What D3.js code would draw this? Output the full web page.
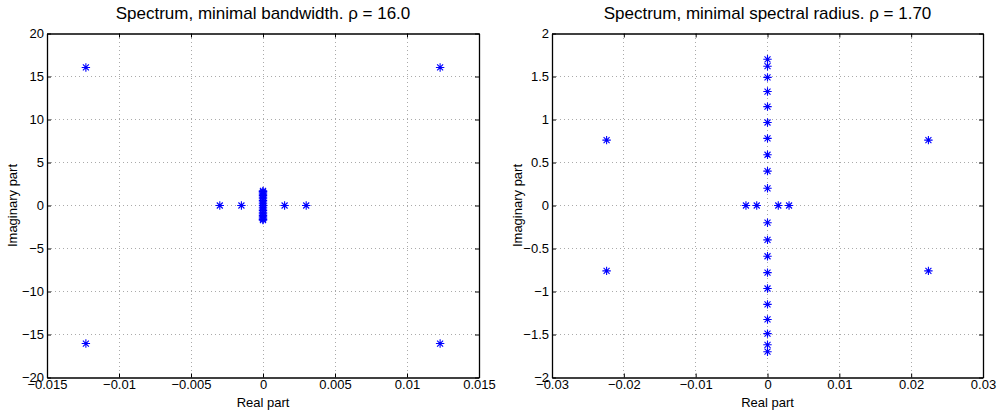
<!DOCTYPE html>
<html>
<head>
	<title>Spectrum</title>
	<script type="text/javascript" src="https://cdn.jsdelivr.net/npm/d3@7"></script>
	<style type="text/css">
		body{ margin:0; background:#fff; }
		text{ font-family: "Liberation Sans", Arial, sans-serif; fill:#000; }
	</style>
</head>
<body>
	<svg width=1000 height=415 class="spectrum"></svg>
	<script type="text/javascript">

		// left panel: minimal bandwidth
		leftTitle = 'Spectrum, minimal bandwidth. \u03c1 = 16.0'
		leftXTicks = [-0.015, -0.01, -0.005, 0, 0.005, 0.01, 0.015]
		leftYTicks = [-20, -15, -10, -5, 0, 5, 10, 15, 20]
		leftRe = [-0.0123, 0.0123, -0.0123, 0.0123, -0.003, -0.0015, 0.0015, 0.003,
			0, 0, 0, 0, 0, 0, 0, 0, 0, 0, 0, 0, 0, 0, 0, 0, 0, 0, 0, 0, 0]
		leftIm = [16.05, 16.05, -16.05, -16.05, 0, 0, 0, 0,
			0, 0.2, 0.4, 0.59, 0.78, 0.965, 1.15, 1.325, 1.49, 1.62, 1.7,
			-0.2, -0.4, -0.59, -0.78, -0.965, -1.15, -1.325, -1.49, -1.62, -1.7]

		// right panel: minimal spectral radius
		rightTitle = 'Spectrum, minimal spectral radius. \u03c1 = 1.70'
		rightXTicks = [-0.03, -0.02, -0.01, 0, 0.01, 0.02, 0.03]
		rightYTicks = [-2, -1.5, -1, -0.5, 0, 0.5, 1, 1.5, 2]
		rightRe = [-0.0224, 0.0224, -0.0224, 0.0224, -0.003, -0.0015, 0.0015, 0.003,
			0, 0, 0, 0, 0, 0, 0, 0, 0, 0, 0, 0, 0, 0, 0, 0, 0, 0, 0, 0]
		rightIm = [0.76, 0.76, -0.76, -0.76, 0, 0, 0, 0,
			0.2, 0.4, 0.59, 0.78, 0.965, 1.15, 1.325, 1.49, 1.62, 1.7,
			-0.2, -0.4, -0.59, -0.78, -0.965, -1.15, -1.325, -1.49, -1.62, -1.7]

		svg = d3.select('.spectrum')

		function fmt(d){
			return String(d).replace('-', '\u2212')
		}

		function drawPanel(box, title, xTicks, yTicks, re, im, ylabX){
			x = d3.scaleLinear().domain(d3.extent(xTicks)).range([box.left, box.right])
			y = d3.scaleLinear().domain(d3.extent(yTicks)).range([box.bottom, box.top])

			g = svg.append('g')

			// dotted grid
			g.append('g').selectAll('line')
				.data(xTicks.slice(1, -1))
				.enter().append('line')
				.attr('x1', function(d){return x(d)}).attr('x2', function(d){return x(d)})
				.attr('y1', box.top).attr('y2', box.bottom)
				.attr('stroke', '#aaa').attr('stroke-width', 1)
				.attr('stroke-dasharray', '1,3')
				.attr('shape-rendering', 'crispEdges')
			g.append('g').selectAll('line')
				.data(yTicks.slice(1, -1))
				.enter().append('line')
				.attr('y1', function(d){return y(d)}).attr('y2', function(d){return y(d)})
				.attr('x1', box.left).attr('x2', box.right)
				.attr('stroke', '#aaa').attr('stroke-width', 1)
				.attr('stroke-dasharray', '1,3')
				.attr('shape-rendering', 'crispEdges')

			// axes, ticks inside on all four sides
			g.append('g').attr('transform', 'translate(0,' + box.bottom + ')')
				.call(d3.axisBottom(x).tickValues(xTicks).tickFormat(fmt).tickSizeInner(-4).tickSizeOuter(0).tickPadding(2))
			g.append('g').attr('transform', 'translate(0,' + box.top + ')')
				.call(d3.axisTop(x).tickValues(xTicks).tickFormat('').tickSizeInner(-4).tickSizeOuter(0))
			g.append('g').attr('transform', 'translate(' + box.left + ',0)')
				.call(d3.axisLeft(y).tickValues(yTicks).tickFormat(fmt).tickSizeInner(-4).tickSizeOuter(0).tickPadding(3))
			g.append('g').attr('transform', 'translate(' + box.right + ',0)')
				.call(d3.axisRight(y).tickValues(yTicks).tickFormat('').tickSizeInner(-4).tickSizeOuter(0))

			g.selectAll('.domain').attr('stroke', '#000').attr('stroke-width', 1.3)
			g.selectAll('.tick line').attr('stroke', '#000')
			g.selectAll('.tick text').attr('font-size', 13).attr('font-family', '"Liberation Sans", Arial, sans-serif')

			// star markers
			pts = re.map(function(r, i){ return [r, im[i]] })
			s = 4.2
			d = 3
			g.append('g').selectAll('path')
				.data(pts)
				.enter().append('path')
				.attr('d', 'M' + (-s) + ',0H' + s + 'M0,' + (-s) + 'V' + s +
					'M' + (-d) + ',' + (-d) + 'L' + d + ',' + d + 'M' + (-d) + ',' + d + 'L' + d + ',' + (-d))
				.attr('transform', function(p){ return 'translate(' + x(p[0]) + ',' + y(p[1]) + ')' })
				.attr('stroke', '#0000ff').attr('stroke-width', 1.1).attr('fill', 'none')

			// labels
			g.append('text')
				.attr('x', (box.left + box.right) / 2).attr('y', 19)
				.attr('text-anchor', 'middle').attr('font-size', 17)
				.text(title)
			g.append('text')
				.attr('x', (box.left + box.right) / 2).attr('y', 407)
				.attr('text-anchor', 'middle').attr('font-size', 13)
				.text('Real part')
			g.append('text')
				.attr('transform', 'translate(' + ylabX + ',' + (box.top + box.bottom) / 2 + ') rotate(-90)')
				.attr('text-anchor', 'middle').attr('font-size', 13)
				.text('Imaginary part')
		}

		drawPanel({'left':47, 'right':479, 'top':33.5, 'bottom':377.5}, leftTitle, leftXTicks, leftYTicks, leftRe, leftIm, 17)
		drawPanel({'left':552, 'right':983, 'top':33.5, 'bottom':377.5}, rightTitle, rightXTicks, rightYTicks, rightRe, rightIm, 522)

	</script>
</body>
</html>
